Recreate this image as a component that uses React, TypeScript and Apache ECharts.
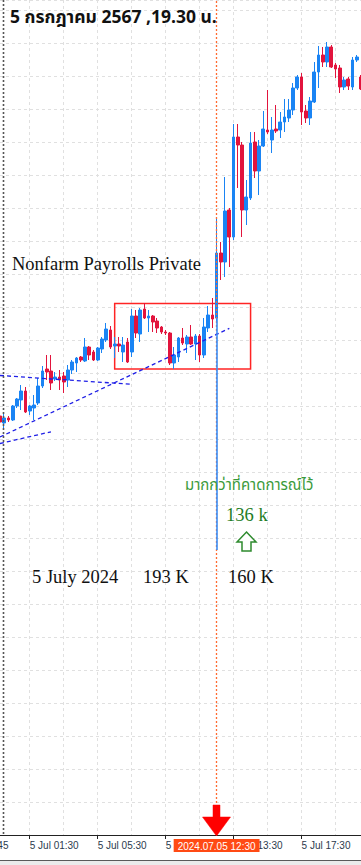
import React, { useEffect, useRef } from 'react';
import * as echarts from 'echarts';

// 15-minute bars, XAUUSD (server time); trading break between 23:45 and 01:00
const categories = [
  '4 Jul 22:45', '4 Jul 23:00', '4 Jul 23:15', '4 Jul 23:30', '4 Jul 23:45',
  '5 Jul 01:00', '5 Jul 01:15', '5 Jul 01:30', '5 Jul 01:45', '5 Jul 02:00', '5 Jul 02:15', '5 Jul 02:30', '5 Jul 02:45',
  '5 Jul 03:00', '5 Jul 03:15', '5 Jul 03:30', '5 Jul 03:45', '5 Jul 04:00', '5 Jul 04:15', '5 Jul 04:30', '5 Jul 04:45',
  '5 Jul 05:00', '5 Jul 05:15', '5 Jul 05:30', '5 Jul 05:45', '5 Jul 06:00', '5 Jul 06:15', '5 Jul 06:30', '5 Jul 06:45',
  '5 Jul 07:00', '5 Jul 07:15', '5 Jul 07:30', '5 Jul 07:45', '5 Jul 08:00', '5 Jul 08:15', '5 Jul 08:30', '5 Jul 08:45',
  '5 Jul 09:00', '5 Jul 09:15', '5 Jul 09:30', '5 Jul 09:45', '5 Jul 10:00', '5 Jul 10:15', '5 Jul 10:30', '5 Jul 10:45',
  '5 Jul 11:00', '5 Jul 11:15', '5 Jul 11:30', '5 Jul 11:45', '5 Jul 12:00', '5 Jul 12:15', '5 Jul 12:30', '5 Jul 12:45',
  '5 Jul 13:00', '5 Jul 13:15', '5 Jul 13:30', '5 Jul 13:45', '5 Jul 14:00', '5 Jul 14:15', '5 Jul 14:30', '5 Jul 14:45',
  '5 Jul 15:00', '5 Jul 15:15', '5 Jul 15:30', '5 Jul 15:45', '5 Jul 16:00', '5 Jul 16:15', '5 Jul 16:30', '5 Jul 16:45',
  '5 Jul 17:00', '5 Jul 17:15', '5 Jul 17:30', '5 Jul 17:45', '5 Jul 18:00', '5 Jul 18:15', '5 Jul 18:30', '5 Jul 18:45',
  '5 Jul 19:00', '5 Jul 19:15', '5 Jul 19:30', '5 Jul 19:45', '5 Jul 20:00', '5 Jul 20:15', '5 Jul 20:30', '5 Jul 20:45',
  '5 Jul 21:00',
];

const opens = [
  2358.5, 2357.8, 2358.3, 2358.1, 2359.5, 2360.1, 2361.0, 2359.0, 2359.3, 2359.8,
  2361.5, 2363.2, 2363.0, 2362.2, 2362.4, 2362.5, 2362.1, 2363.1, 2363.8, 2364.4,
  2364.0, 2365.4, 2364.9, 2364.1, 2365.2, 2366.1, 2367.1, 2365.5, 2365.7, 2364.9,
  2365.9, 2364.9, 2368.5, 2366.7, 2369.2, 2368.3, 2368.5, 2368.0, 2367.4, 2366.9,
  2366.8, 2363.8, 2364.4, 2366.3, 2365.7, 2366.4, 2365.7, 2366.5, 2364.6, 2367.3,
  2368.6, 2368.3, 2374.8, 2373.9, 2379.1, 2376.4, 2386.4, 2385.6, 2379.1, 2380.3,
  2385.9, 2383.0, 2385.5, 2387.1, 2386.1, 2387.2, 2387.1, 2387.9, 2388.3, 2389.1,
  2391.3, 2392.4, 2389.0, 2388.3, 2389.9, 2392.9, 2394.6, 2393.9, 2395.4, 2393.6,
  2393.3, 2391.4, 2392.2, 2391.4, 2394.1, 2392.4,
];
const closes = [
  2357.9, 2358.3, 2358.1, 2359.5, 2360.2, 2361.0, 2358.9, 2359.5, 2359.6, 2361.5,
  2363.0, 2362.9, 2361.8, 2362.4, 2362.1, 2361.9, 2363.1, 2363.9, 2364.3, 2364.1,
  2365.4, 2364.6, 2364.1, 2365.3, 2366.2, 2367.2, 2365.4, 2365.7, 2365.5, 2365.6,
  2363.9, 2368.5, 2366.8, 2369.1, 2368.3, 2368.5, 2367.9, 2367.3, 2366.9, 2366.8,
  2363.8, 2364.6, 2366.3, 2365.8, 2366.4, 2365.7, 2366.5, 2364.6, 2367.4, 2368.6,
  2368.2, 2374.8, 2373.9, 2379.0, 2376.4, 2386.4, 2385.6, 2379.1, 2380.4, 2385.8,
  2383.0, 2385.5, 2387.2, 2386.9, 2387.1, 2387.0, 2387.9, 2388.4, 2389.1, 2391.3,
  2392.4, 2388.9, 2388.3, 2390.0, 2392.9, 2394.6, 2393.9, 2395.4, 2393.4, 2393.2,
  2391.4, 2392.1, 2391.5, 2394.1, 2394.4, 2391.2,
];
const lows = [
  2357.7, 2357.1, 2357.9, 2358.0, 2359.3, 2359.1, 2358.8, 2358.6, 2358.1, 2359.6,
  2361.3, 2362.1, 2361.1, 2362.0, 2361.1, 2360.8, 2361.4, 2362.7, 2362.9, 2363.9,
  2363.9, 2364.1, 2364.0, 2364.0, 2364.8, 2365.9, 2365.2, 2364.3, 2364.9, 2363.9,
  2363.8, 2364.4, 2366.3, 2365.9, 2368.2, 2366.9, 2366.9, 2366.8, 2366.7, 2366.6,
  2363.6, 2363.2, 2363.9, 2365.6, 2364.8, 2365.6, 2364.1, 2363.9, 2364.3, 2366.9,
  2367.3, 2367.9, 2372.1, 2372.4, 2373.4, 2376.1, 2381.3, 2376.4, 2377.6, 2380.1,
  2382.3, 2380.6, 2385.4, 2386.7, 2384.8, 2386.8, 2386.3, 2386.9, 2387.9, 2388.6,
  2391.1, 2387.6, 2387.8, 2387.6, 2389.8, 2391.3, 2393.4, 2393.4, 2393.3, 2392.3,
  2390.8, 2391.1, 2391.1, 2391.1, 2393.9, 2391.1,
];
const highs = [
  2358.9, 2358.7, 2358.5, 2359.6, 2360.3, 2361.6, 2361.4, 2359.6, 2360.6, 2362.3,
  2363.5, 2364.6, 2364.6, 2362.9, 2363.1, 2362.9, 2363.6, 2364.1, 2364.4, 2364.5,
  2366.3, 2365.5, 2365.1, 2365.4, 2366.4, 2367.8, 2367.5, 2366.4, 2366.4, 2366.4,
  2366.3, 2369.2, 2369.1, 2369.3, 2369.8, 2369.1, 2368.6, 2368.3, 2367.5, 2367.1,
  2366.9, 2365.4, 2366.4, 2367.3, 2366.6, 2367.6, 2366.7, 2366.7, 2368.3, 2369.5,
  2370.3, 2378.2, 2375.9, 2382.4, 2379.3, 2387.7, 2387.7, 2385.9, 2382.1, 2386.9,
  2386.9, 2386.1, 2389.0, 2391.1, 2388.4, 2389.6, 2388.9, 2390.2, 2390.2, 2391.8,
  2392.6, 2392.8, 2389.6, 2390.4, 2393.9, 2395.5, 2395.4, 2395.9, 2395.6, 2393.8,
  2393.6, 2392.4, 2392.4, 2394.4, 2394.6, 2392.6,
];

// price axis (its labels are off-screen in the original)
const Y_MIN = 2316.6;
const Y_MAX = 2400.1;
const Y_STEP = 3.3;

// annotations
const NEWS_TIME = '5 Jul 12:30';
const NEWS_LABEL = '2024.07.05 12:30';
const boxFrom = { x: '5 Jul 06:30', y: 2369.75 };
const boxTo = { x: '5 Jul 14:30', y: 2363.2 };
const impulseLine = { top: 2368.3, bottom: 2345.1 };
const trendLines = [
  { from: ['4 Jul 22:45', 2362.55], to: ['5 Jul 07:30', 2361.67] },
  { from: ['4 Jul 22:45', 2356.4], to: ['5 Jul 13:15', 2367.27] },
  { from: ['4 Jul 22:45', 2355.75], to: ['5 Jul 02:45', 2356.92] },
];

const titleText = '5 กรกฎาคม 2567 ,19.30 น.';
const eventName = 'Nonfarm Payrolls Private';
const eventDate = '5 July 2024';
const previousValue = '193 K';
const actualValue = '160 K';
const forecastNote = 'มากกว่าที่คาดการณ์ไว้';
const forecastValue = '136 k';
const firstAxisLabel = '4 Jul 19:45';

const SERIF = '"Liberation Serif", "Times New Roman", serif';
const SANS = '"Liberation Sans", Arial, sans-serif';
const THAI = '"Noto Sans Thai", Tahoma, "Noto Sans", "DejaVu Sans", sans-serif';

const labelInterval = (i: number) => i >= 7 && (i - 7) % 16 === 0;
const gridInterval = (i: number) => i >= 7 && (i - 7) % 8 === 0;

export default function App() {
  const ref = useRef<HTMLDivElement>(null);

  useEffect(() => {
    if (!ref.current) return;
    const chart = echarts.init(ref.current, undefined, { renderer: 'svg' });
    const candleData = categories.map((_, i) => [opens[i], closes[i], lows[i], highs[i]]);
    const gridLine = { color: '#e0e0e0', type: [3, 3] as number[], width: 1 };
    const txt = (text: string, x: number, y: number, font: string, fill: string) => ({
      type: 'text', z: 20, x, y,
      style: { text, fill, font, textAlign: 'left', textVerticalAlign: 'middle', align: 'left', verticalAlign: 'middle' },
    });

    chart.setOption({
      animation: false,
      backgroundColor: '#ffffff',
      grid: { left: 0, right: 0, top: 0, height: 835, containLabel: false },
      xAxis: {
        type: 'category',
        data: categories,
        boundaryGap: false,
        axisLine: { show: true, lineStyle: { color: '#222', width: 1 } },
        axisTick: { show: true, interval: labelInterval, length: 4, lineStyle: { color: '#222' } },
        axisLabel: {
          show: true,
          interval: labelInterval,
          align: 'left',
          margin: 5,
          color: '#2b3a4d',
          fontFamily: SANS,
          fontSize: 10,
        },
        splitLine: { show: true, interval: gridInterval, lineStyle: gridLine },
      },
      yAxis: {
        type: 'value',
        min: Y_MIN,
        max: Y_MAX,
        interval: Y_STEP,
        axisLine: { show: false },
        axisTick: { show: false },
        axisLabel: { show: false },
        splitLine: { show: true, lineStyle: gridLine },
      },
      series: [
        {
          type: 'candlestick',
          data: candleData,
          barWidth: 3.2,
          itemStyle: {
            color: '#1a84f4',
            color0: '#e2143d',
            borderColor: '#1a84f4',
            borderColor0: '#e2143d',
            borderWidth: 1,
          },
          markArea: {
            silent: true,
            itemStyle: { color: 'rgba(0,0,0,0)', borderColor: '#ff2424', borderWidth: 1.5 },
            data: [[{ xAxis: boxFrom.x, yAxis: boxFrom.y }, { xAxis: boxTo.x, yAxis: boxTo.y }]],
          },
          markLine: {
            silent: true,
            symbol: ['none', 'none'],
            label: { show: false },
            data: [
              {
                xAxis: NEWS_TIME,
                lineStyle: { color: '#ff6a30', type: [2, 2], width: 1.3 },
                label: {
                  show: true,
                  position: 'start',
                  distance: 4,
                  formatter: NEWS_LABEL,
                  color: '#ffffff',
                  backgroundColor: '#ff4a14',
                  padding: [2, 4, 1, 4],
                  fontSize: 10,
                  fontFamily: SANS,
                },
              },
              ...trendLines.map((t) => [
                { coord: t.from, lineStyle: { color: '#1f1fe6', type: [4, 3], width: 1.3 } },
                { coord: t.to },
              ]),
              [
                { coord: [NEWS_TIME, impulseLine.top], lineStyle: { color: '#3a8ef6', type: 'solid', width: 1.6 } },
                { coord: [NEWS_TIME, impulseLine.bottom] },
              ],
            ],
          },
        },
      ],
      graphic: [
        {
          type: 'line', z: 20, silent: true,
          shape: { x1: 3.5, y1: 0, x2: 3.5, y2: 835 },
          style: { stroke: '#555', lineWidth: 1.6, lineDash: [2, 2] },
        },
        txt(titleText, 10, 17, `bold 17.5px ${THAI}`, '#111'),
        txt(eventName, 12, 264, `18.5px ${SERIF}`, '#111'),
        txt(eventDate, 32, 577, `18.5px ${SERIF}`, '#111'),
        txt(previousValue, 143, 577, `18.5px ${SERIF}`, '#111'),
        txt(actualValue, 228, 577, `18.5px ${SERIF}`, '#111'),
        txt(forecastNote, 185, 485, `15px ${THAI}`, '#3a9a3a'),
        txt(forecastValue, 226, 515, `18.5px ${SERIF}`, '#1f7d1f'),
        {
          type: 'polygon', z: 20, silent: true,
          shape: { points: [[246.5, 532], [256, 542], [251, 542], [251, 551], [242, 551], [242, 542], [237, 542]] },
          style: { fill: '#ffffff', stroke: '#2e8b2e', lineWidth: 1.5 },
        },
        {
          type: 'polygon', z: 30, silent: true,
          shape: { points: [[213, 805], [220, 805], [220, 817], [230.5, 817], [216.5, 836], [202.5, 817], [213, 817]] },
          style: { fill: '#ff0000', stroke: '#ff0000', lineWidth: 0.5 },
        },
        {
          type: 'text', z: 20, x: 8.5, y: 840,
          style: { text: firstAxisLabel, fill: '#2b3a4d', font: `10px ${SANS}`, textAlign: 'right', textVerticalAlign: 'top', align: 'right', verticalAlign: 'top' },
        },
        {
          type: 'rect', z: 20, silent: true,
          shape: { x: 0, y: 860, width: 361, height: 5 },
          style: { fill: '#ebebeb' },
        },
        {
          type: 'line', z: 21, silent: true,
          shape: { x1: 0, y1: 860.5, x2: 361, y2: 860.5 },
          style: { stroke: '#5a5a5a', lineWidth: 1 },
        },
      ],
    });

    return () => chart.dispose();
  }, []);

  return (
    <div
      ref={ref}
      style={{ position: 'fixed', left: 0, top: 0, width: 361, height: 865, background: '#fff' }}
    />
  );
}
